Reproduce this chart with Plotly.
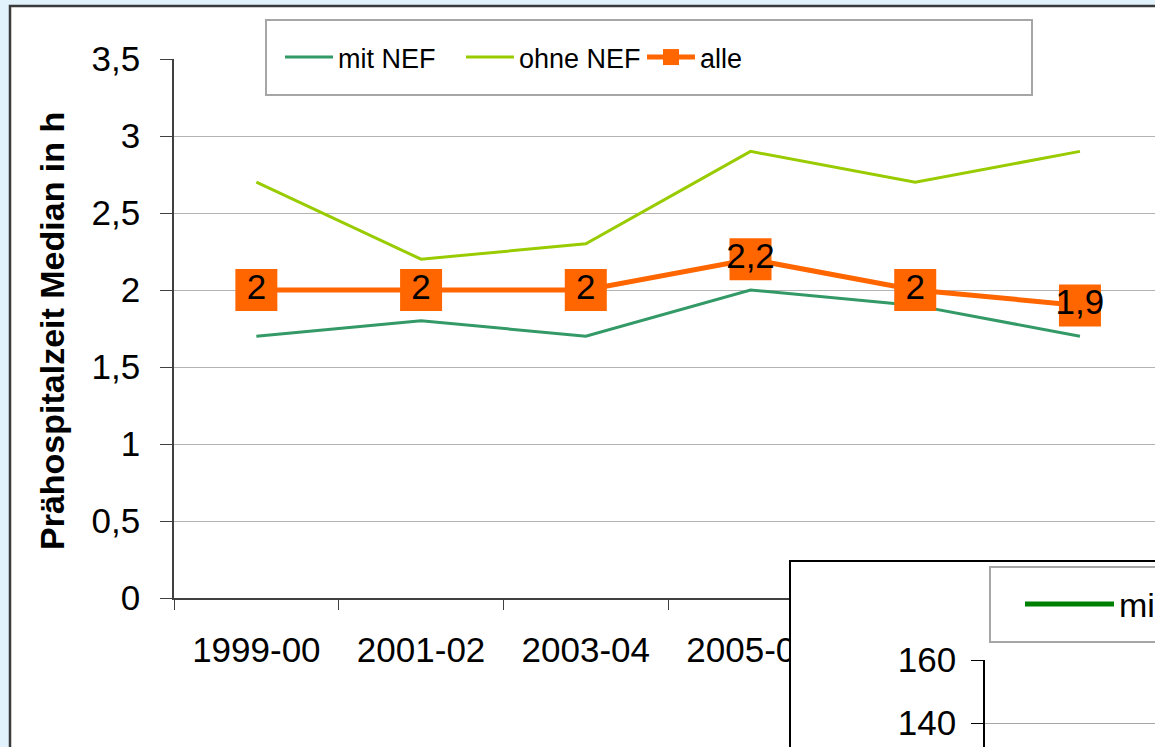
import plotly.graph_objects as go

# ---- data ----
categories = ["1999-00", "2001-02", "2003-04", "2005-06", "2007-08", "2009-10"]
mit_nef = [1.7, 1.8, 1.7, 2.0, 1.9, 1.7]
ohne_nef = [2.7, 2.2, 2.3, 2.9, 2.7, 2.9]
alle = [2.0, 2.0, 2.0, 2.2, 2.0, 1.9]
y_ticks = [0, 0.5, 1, 1.5, 2, 2.5, 3, 3.5]
inset_ticks = [140, 160]
inset_series_name = "mit NEF"

W, H = 1155, 747
FONT = "Liberation Sans, Arial, sans-serif"


def px_x(p):
    return p / W


def px_y(p):
    return 1 - p / H


alle_text = [f"{v:g}".replace(".", ",") for v in alle]

fig = go.Figure()

fig.add_trace(go.Scatter(
    x=categories, y=mit_nef, name="mit NEF", mode="lines",
    line=dict(color="#339966", width=3), xaxis="x", yaxis="y"))
fig.add_trace(go.Scatter(
    x=categories, y=ohne_nef, name="ohne NEF", mode="lines",
    line=dict(color="#99CC00", width=3), xaxis="x", yaxis="y"))
fig.add_trace(go.Scatter(
    x=categories, y=alle, name="alle", mode="lines+markers+text",
    line=dict(color="#FF6600", width=5),
    marker=dict(symbol="square", size=42, color="#FF6600"),
    text=alle_text, textposition="middle center",
    textfont=dict(family=FONT, size=35, color="black"),
    xaxis="x", yaxis="y"))

# white overlapping frame of the second chart
fig.add_trace(go.Scatter(x=[None], y=[None], showlegend=False,
                         xaxis="x2", yaxis="y2", hoverinfo="skip"))
# partial second chart
fig.add_trace(go.Scatter(x=[None], y=[None], name=inset_series_name, mode="lines",
                         line=dict(color="#008000", width=5),
                         xaxis="x3", yaxis="y3", legend="legend2"))

first_px, step_px = 257, 164.6
x_right = (W - first_px) / step_px

axis_common = dict(automargin=False, fixedrange=True, zeroline=False)

fig.update_layout(
    width=W, height=H,
    margin=dict(l=0, r=0, t=0, b=0, pad=0, autoexpand=False),
    paper_bgcolor="#E2F2FC",
    plot_bgcolor="white",
    separators=",.",
    font=dict(family=FONT, size=35, color="black"),
    showlegend=True,
    xaxis=dict(
        domain=[px_x(174), 1], anchor="y",
        type="category", categoryorder="array", categoryarray=categories,
        range=[-0.5, x_right],
        showgrid=False, showline=True, linecolor="#404040", linewidth=1.5,
        ticks="outside", tickson="boundaries", ticklen=10, tickcolor="#404040",
        tickfont=dict(family=FONT, size=35), ticklabelstandoff=20,
        **axis_common),
    yaxis=dict(
        domain=[px_y(598), px_y(59)], anchor="x",
        range=[0, 3.5], tickvals=y_ticks,
        showgrid=True, gridcolor="#B3B3B3", gridwidth=1,
        showline=True, linecolor="#404040", linewidth=1.5,
        ticks="outside", ticklen=12, tickcolor="#404040",
        tickfont=dict(family=FONT, size=35), ticklabelstandoff=13,
        **axis_common),
    xaxis2=dict(
        domain=[px_x(791), 1], anchor="y2", range=[0, 1],
        showgrid=False, showticklabels=False, ticks="",
        showline=True, mirror=True, linecolor="black", linewidth=1.5,
        **axis_common),
    yaxis2=dict(
        domain=[0, px_y(562)], anchor="x2", range=[0, 1],
        showgrid=False, showticklabels=False, ticks="",
        showline=True, mirror=True, linecolor="black", linewidth=1.5,
        **axis_common),
    xaxis3=dict(
        domain=[px_x(985), 1], anchor="y3", range=[0, 1],
        showgrid=False, showticklabels=False, ticks="", showline=False,
        **axis_common),
    yaxis3=dict(
        domain=[0, px_y(660)], anchor="x3",
        range=[160 - (747 - 660) * 20 / 63, 160], tickvals=inset_ticks,
        showgrid=True, gridcolor="#A6A6A6", gridwidth=1,
        showline=True, linecolor="black", linewidth=1.5,
        ticks="outside", ticklen=12, tickcolor="black",
        tickfont=dict(family=FONT, size=35), ticklabelstandoff=8,
        **axis_common),
    legend=dict(
        orientation="h", x=px_x(280), y=px_y(57.5), xanchor="left", yanchor="middle",
        bgcolor="rgba(0,0,0,0)", borderwidth=0,
        font=dict(family=FONT, size=27), itemwidth=48, entrywidth=118,
        traceorder="normal"),
    legend2=dict(
        orientation="h", x=px_x(1020), y=px_y(604.5), xanchor="left", yanchor="middle",
        bgcolor="rgba(0,0,0,0)", borderwidth=0,
        font=dict(family=FONT, size=34), itemwidth=89),
    shapes=[
        # slide panel
        dict(type="rect", xref="paper", yref="paper",
             x0=px_x(10), x1=1.2, y0=-0.2, y1=px_y(6),
             fillcolor="white", line=dict(color="#3A3A3A", width=2.5), layer="below"),
        # legend frames
        dict(type="rect", xref="paper", yref="paper",
             x0=px_x(266), x1=px_x(1032), y0=px_y(95), y1=px_y(20),
             fillcolor="white", line=dict(color="#A6A6A6", width=2), layer="above"),
        dict(type="rect", xref="paper", yref="paper",
             x0=px_x(990), x1=1.2, y0=px_y(642), y1=px_y(567),
             fillcolor="white", line=dict(color="#A6A6A6", width=2), layer="above"),
    ],
    annotations=[dict(
        text="<b>Prähospitalzeit Median in h</b>", textangle=-90,
        xref="paper", yref="paper", x=px_x(52), y=px_y(331),
        xanchor="center", yanchor="middle", showarrow=False,
        font=dict(family=FONT, size=34, color="black"))],
)

fig.write_html(
    "out.html",
    config={"displayModeBar": False},
    post_script="document.body.style.margin='0';document.body.style.overflow='hidden';",
)
